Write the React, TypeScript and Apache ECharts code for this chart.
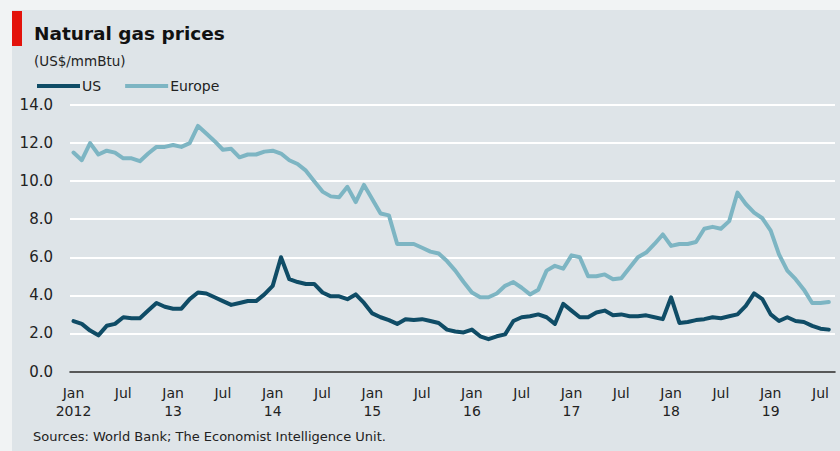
import React, { useEffect, useRef } from "react";
import * as echarts from "echarts";

const years = [2012, 2013, 2014, 2015, 2016, 2017, 2018, 2019];
const monthNames = ["Jan", "Feb", "Mar", "Apr", "May", "Jun", "Jul", "Aug", "Sep", "Oct", "Nov", "Dec"];
const lastMonthCount = 8; // data runs to Aug 2019
const categories: string[] = [];
years.forEach((y, yi) => {
  const n = yi === years.length - 1 ? lastMonthCount : 12;
  for (let m = 0; m < n; m++) categories.push(`${monthNames[m]} ${y}`);
});

const usPrices = [
  2.65, 2.5, 2.15, 1.9, 2.4, 2.5, 2.85, 2.8, 2.8, 3.2, 3.6, 3.4,
  3.3, 3.3, 3.8, 4.15, 4.1, 3.9, 3.7, 3.5, 3.6, 3.7, 3.7, 4.05,
  4.5, 6.0, 4.85, 4.7, 4.6, 4.6, 4.15, 3.95, 3.95, 3.8, 4.05, 3.6,
  3.05, 2.85, 2.7, 2.5, 2.75, 2.7, 2.75, 2.65, 2.55, 2.2, 2.1, 2.05,
  2.2, 1.85, 1.7, 1.85, 1.95, 2.65, 2.85, 2.9, 3.0, 2.85, 2.5, 3.55,
  3.2, 2.85, 2.85, 3.1, 3.2, 2.95, 3.0, 2.9, 2.9, 2.95, 2.85, 2.75,
  3.9, 2.55, 2.6, 2.7, 2.75, 2.85, 2.8, 2.9, 3.0, 3.45, 4.1, 3.8,
  3.0, 2.65, 2.85, 2.65, 2.6, 2.4, 2.25, 2.2,
];

const europePrices = [
  11.5, 11.1, 12.0, 11.4, 11.6, 11.5, 11.2, 11.2, 11.05, 11.45, 11.8, 11.8,
  11.9, 11.8, 12.0, 12.9, 12.5, 12.1, 11.65, 11.7, 11.25, 11.4, 11.4, 11.55,
  11.6, 11.45, 11.1, 10.9, 10.55, 10.0, 9.45, 9.2, 9.15, 9.7, 8.9, 9.8,
  9.05, 8.3, 8.2, 6.7, 6.7, 6.7, 6.5, 6.3, 6.2, 5.8, 5.3, 4.7,
  4.15, 3.9, 3.9, 4.1, 4.5, 4.7, 4.4, 4.05, 4.3, 5.3, 5.55, 5.4,
  6.1, 6.0, 5.0, 5.0, 5.1, 4.85, 4.9, 5.45, 6.0, 6.25, 6.7, 7.2,
  6.6, 6.7, 6.7, 6.8, 7.5, 7.6, 7.5, 7.9, 9.4, 8.8, 8.35, 8.05,
  7.4, 6.15, 5.3, 4.85, 4.3, 3.6, 3.6, 3.65,
];

const yTicks = { min: 0, max: 14, interval: 2 };

const title = "Natural gas prices";
const subtitle = "(US$/mmBtu)";
const source = "Sources: World Bank; The Economist Intelligence Unit.";

const US_COLOR = "#0f4c66";
const EU_COLOR = "#7db5c3";
const BG = "#dee4e8";
const FONT = "'DejaVu Sans', Verdana, sans-serif";

export default function App() {
  const ref = useRef<HTMLDivElement>(null);
  useEffect(() => {
    document.body.style.margin = "0";
    if (!ref.current) return;
    const chart = echarts.init(ref.current, null, { renderer: "svg" });
    const top = 105;
    const bottom = 79.5;
    chart.setOption({
      animation: false,
      backgroundColor: "#f1f3f4",
      textStyle: { fontFamily: FONT },
      graphic: [
        { type: "rect", z: -10, shape: { x: 12, y: 10, width: 828, height: 441 }, style: { fill: BG } },
        { type: "rect", shape: { x: 12, y: 11, width: 10, height: 35 }, style: { fill: "#e3120b" } },
        {
          type: "text", left: 34, top: 24,
          style: { text: title, font: `bold 18.5px ${FONT}`, fill: "#111" },
        },
        {
          type: "text", left: 34, top: 54,
          style: { text: subtitle, font: `13.5px ${FONT}`, fill: "#222" },
        },
        {
          type: "text", left: 33, top: 430,
          style: { text: source, font: `13px ${FONT}`, fill: "#222" },
        },
      ],
      legend: {
        left: 37,
        top: 78,
        padding: 0,
        icon: "rect",
        itemWidth: 43,
        itemHeight: 4,
        itemGap: 24,
        textStyle: { fontSize: 14, color: "#222", lineHeight: 16, padding: [0, 0, 0, -3] },
        data: ["US", "Europe"],
      },
      grid: [
        { left: 70, right: 5, top, bottom },
        { left: 73.5, right: 11.2, top, bottom },
      ],
      xAxis: [
        {
          gridIndex: 0, type: "value", min: 0, max: 1,
          axisLine: { show: true, lineStyle: { color: "#222", width: 1.5 } },
          axisTick: { show: false }, axisLabel: { show: false }, splitLine: { show: false },
        },
        {
          gridIndex: 1, type: "category", data: categories, boundaryGap: false,
          axisLine: { show: false }, axisTick: { show: false }, splitLine: { show: false },
          axisLabel: {
            interval: 5,
            margin: 12.5,
            fontSize: 14,
            lineHeight: 18,
            color: "#222",
            formatter: (v: string) => {
              const [m, y] = v.split(" ");
              if (m === "Jul") return "Jul";
              if (m === "Jan") return `Jan\n${y === "2012" ? y : y.slice(2)}`;
              return "";
            },
          },
        },
      ],
      yAxis: [
        {
          gridIndex: 0, type: "value", ...yTicks,
          axisLine: { show: false }, axisTick: { show: false },
          splitLine: { show: true, lineStyle: { color: "#ffffff", width: 2 } },
          axisLabel: {
            fontSize: 15, color: "#222", margin: 17,
            formatter: (v: number) => v.toFixed(1),
          },
        },
        {
          gridIndex: 1, type: "value", ...yTicks, show: false,
          splitLine: { show: false },
        },
      ],
      series: [
        {
          name: "US", type: "line", xAxisIndex: 1, yAxisIndex: 1, data: usPrices,
          showSymbol: false, symbol: "none", color: US_COLOR,
          lineStyle: { width: 4, color: US_COLOR, join: "round", cap: "round" }, z: 3,
        },
        {
          name: "Europe", type: "line", xAxisIndex: 1, yAxisIndex: 1, data: europePrices,
          showSymbol: false, symbol: "none", color: EU_COLOR,
          lineStyle: { width: 4, color: EU_COLOR, join: "round", cap: "round" }, z: 2,
        },
      ],
    });
    return () => chart.dispose();
  }, []);
  return <div ref={ref} style={{ width: 840, height: 451 }} />;
}
